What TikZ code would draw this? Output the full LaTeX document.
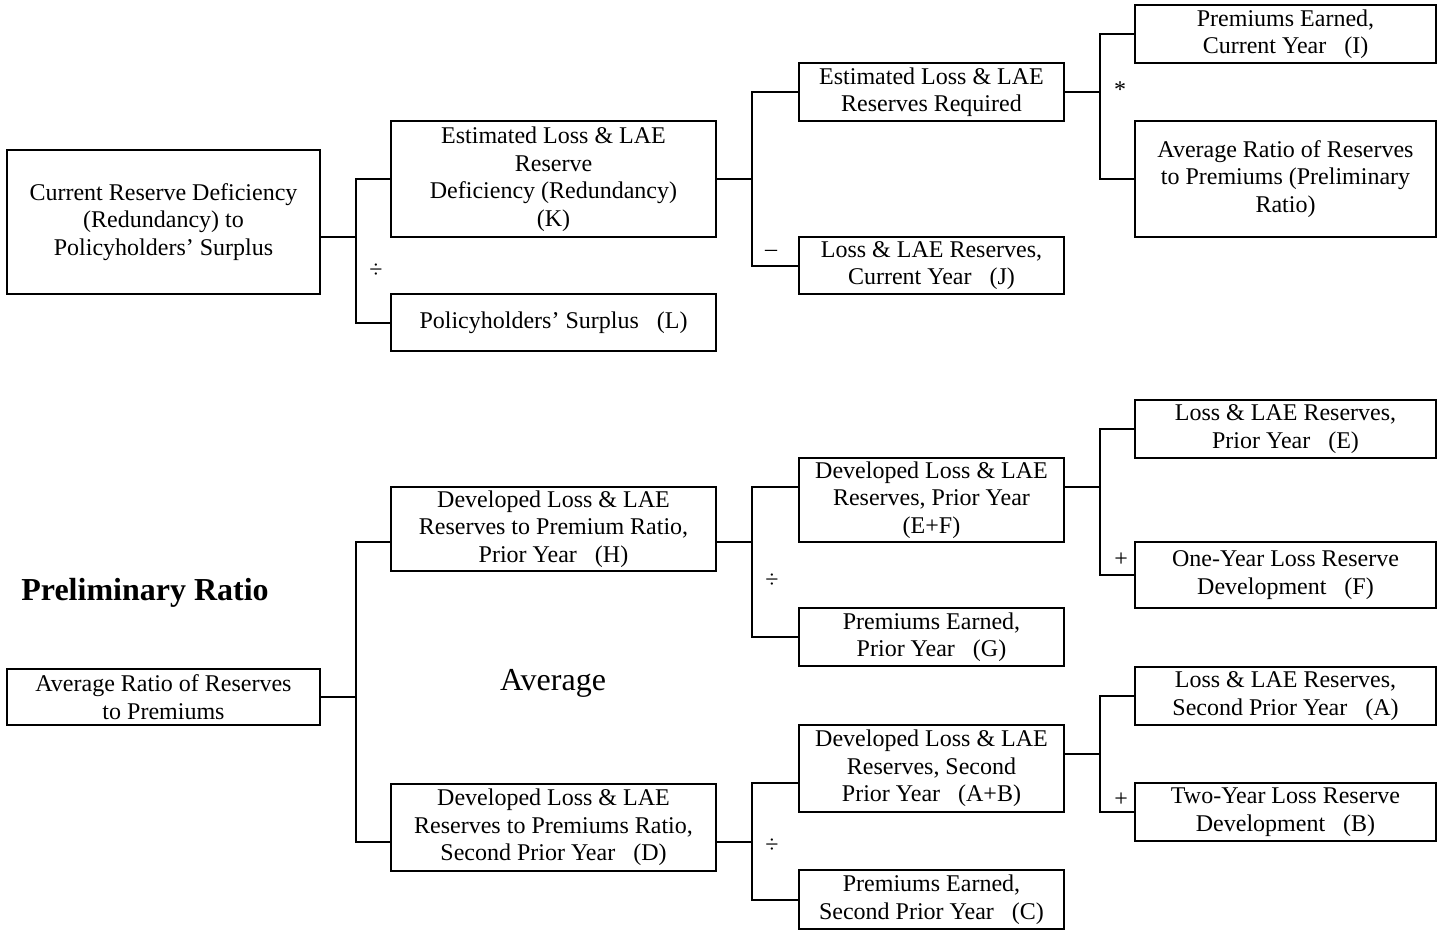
\documentclass[tikz,border=0pt]{standalone}
\usepackage{fontspec}
\setmainfont{Liberation Serif}

\begin{document}
\begin{tikzpicture}[x=0.5pt,y=-0.5pt,line width=1pt]
    \tikzstyle{box}=[draw,line width=1.2pt,inner sep=0pt,align=center,font=\fontsize{12}{13.75}\selectfont]
    \tikzstyle{first box}=[box,minimum width=156.5pt]
    \tikzstyle{second box}=[box,minimum width=162.5pt]
    \tikzstyle{third box}=[box,minimum width=132.5pt]
    \tikzstyle{fourth box}=[box,minimum width=150.5pt]
    \tikzstyle{op}=[inner sep=0pt,font=\fontsize{12}{14}\selectfont]
    \tikzstyle{title}=[inner sep=0pt,font=\fontsize{16}{19}\selectfont]

    \useasboundingbox (0,0) rectangle (1444,932);

    % Draw the reserve deficiency tree
    \node[first box, minimum height=72pt] (CRD) at (163.5,222) {Current Reserve Deficiency\\(Redundancy) to\\Policyholders’ Surplus};
    \node[second box, minimum height=58pt] (K) at (553.5,179) {Estimated Loss \& LAE\\Reserve\\Deficiency (Redundancy)\\(K)};
    \node[second box, minimum height=28.5pt] (L) at (553.5,322.5) {Policyholders’ Surplus~~~(L)};
    \node[third box, minimum height=29pt] (Req) at (931.5,92) {Estimated Loss \& LAE\\Reserves Required};
    \node[third box, minimum height=28.5pt] (J) at (931.5,265.5) {Loss \& LAE Reserves,\\Current Year~~~(J)};
    \node[fourth box, minimum height=29pt] (I) at (1285.5,34) {Premiums Earned,\\Current Year~~~(I)};
    \node[fourth box, minimum height=58pt] (Prelim) at (1285.5,179) {Average Ratio of Reserves\\to Premiums (Preliminary\\Ratio)};

    % Draw the preliminary ratio tree
    \node[first box, minimum height=28pt] (Avg) at (163.5,697) {Average Ratio of Reserves\\to Premiums};
    \node[second box, minimum height=42pt] (H) at (553.5,529) {Developed Loss \& LAE\\Reserves to Premium Ratio,\\Prior Year~~~(H)};
    \node[second box, minimum height=43.5pt] (D) at (553.5,827.5) {Developed Loss \& LAE\\Reserves to Premiums Ratio,\\Second Prior Year~~~(D)};
    \node[third box, minimum height=42pt] (EF) at (931.5,500) {Developed Loss \& LAE\\Reserves, Prior Year\\(E+F)};
    \node[third box, minimum height=29pt] (G) at (931.5,637) {Premiums Earned,\\Prior Year~~~(G)};
    \node[third box, minimum height=43.5pt] (AB) at (931.5,768.5) {Developed Loss \& LAE\\Reserves, Second\\Prior Year~~~(A+B)};
    \node[third box, minimum height=29.5pt] (C) at (931.5,899.5) {Premiums Earned,\\Second Prior Year~~~(C)};
    \node[fourth box, minimum height=29pt] (E) at (1285.5,429) {Loss \& LAE Reserves,\\Prior Year~~~(E)};
    \node[fourth box, minimum height=33pt] (F) at (1285.5,575) {One-Year Loss Reserve\\Development~~~(F)};
    \node[fourth box, minimum height=29pt] (A) at (1285.5,696) {Loss \& LAE Reserves,\\Second Prior Year~~~(A)};
    \node[fourth box, minimum height=29pt] (B) at (1285.5,812) {Two-Year Loss Reserve\\Development~~~(B)};

    % Annotate the trees
    \node[title, font=\fontsize{16}{19}\selectfont\bfseries] (prtitle) at (145,593) {Preliminary Ratio};
    \node[title] (avgtitle) at (553,683) {Average};

    % Connect the reserve deficiency tree
    \coordinate (t1) at (356,237);
    \coordinate (t2) at (752,179);
    \coordinate (t3) at (1100,92);
    \draw (CRD.east |- t1) -- (t1);
    \draw (K.west) -| (t1) |- (L.west);
    \draw (K.east) -- (t2);
    \draw (Req.west) -| (t2) |- (J.west);
    \draw (Req.east) -- (t3);
    \draw (I.west) -| (t3) |- (Prelim.west);

    % Connect the preliminary ratio tree
    \coordinate (b1) at (356,697);
    \coordinate (b2) at (752,542);
    \coordinate (b3) at (752,842);
    \coordinate (b4) at (1100,487);
    \coordinate (b5) at (1100,754);
    \coordinate (b6) at (752,783);
    \draw (Avg.east) -- (b1);
    \draw (H.west |- b2) -| (b1) |- (D.west |- b3);
    \draw (H.east |- b2) -- (b2);
    \draw (EF.west |- b4) -| (b2) |- (G.west);
    \draw (EF.east |- b4) -- (b4);
    \draw (E.west) -| (b4) |- (F.west);
    \draw (D.east |- b3) -- (b3);
    \draw (AB.west |- b6) -| (b3) |- (C.west);
    \draw (AB.east |- b5) -- (b5);
    \draw (A.west) -| (b5) |- (B.west);

    % Operators
    \node[op] (div1) at (376,271) {÷};
    \node[op] (minus) at (771,253) {–};
    \node[op] (times) at (1120,90) {*};
    \node[op] (div2) at (772,581) {÷};
    \node[op] (plus1) at (1121,560) {+};
    \node[op] (div3) at (772,846) {÷};
    \node[op] (plus2) at (1121,800) {+};
\end{tikzpicture}
\end{document}
